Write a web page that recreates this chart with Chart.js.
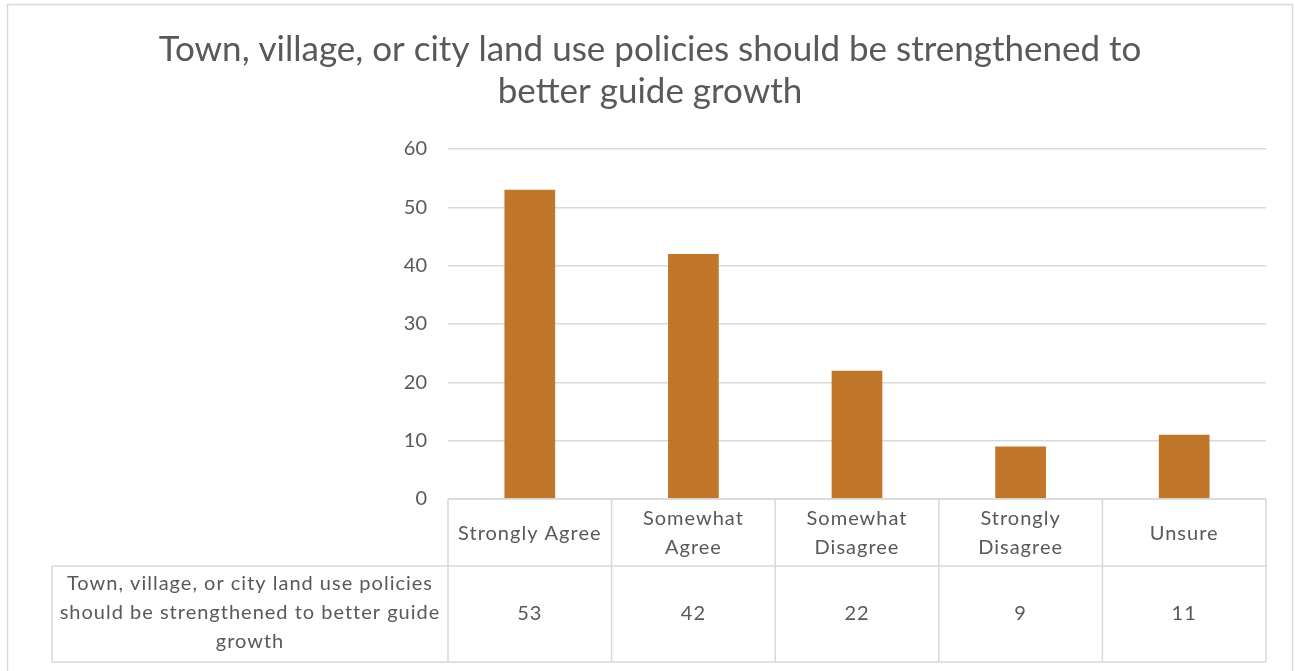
<!DOCTYPE html>
<html>
<head>
<meta charset="utf-8">
<script src="https://cdn.jsdelivr.net/npm/chart.js@4"></script>
<style>
html,body{margin:0;padding:0;background:#fff;}
#wrap{position:absolute;left:0;top:0;width:1295px;height:671px;}
</style>
</head>
<body>
<div id="wrap"><canvas id="c" width="1295" height="671"></canvas></div>
<script>
const titleLines = ['Town, village, or city land use policies should be strengthened to', 'better guide growth'];
const seriesName = 'Town, village, or city land use policies should be strengthened to better guide growth';
const seriesNameLines = ['Town, village, or city land use policies', 'should be strengthened to better guide', 'growth'];
const categories = ['Strongly Agree', 'Somewhat Agree', 'Somewhat Disagree', 'Strongly Disagree', 'Unsure'];
const categoryLines = [['Strongly Agree'], ['Somewhat', 'Agree'], ['Somewhat', 'Disagree'], ['Strongly', 'Disagree'], ['Unsure']];
const values = [53, 42, 22, 9, 11];
const yMin = 0, yMax = 60, yStep = 10;

const TXT = '#595959';
const LINE = '#d9d9d9';
const FONT = 'Lato, "Open Sans", sans-serif';

const tablePlugin = {
  id: 'dataTable',
  beforeDraw(chart) {
    const ctx = chart.ctx;
    ctx.save();
    ctx.strokeStyle = LINE;
    ctx.lineWidth = 1.5;
    ctx.strokeRect(7.5, 4.5, 1285, 700);
    ctx.restore();
  },
  afterDraw(chart) {
    const ctx = chart.ctx;
    const x = chart.scales.x;
    const area = chart.chartArea;
    const n = categories.length;
    const cw = (area.right - area.left) / n;
    const top = area.bottom;
    const rowH1 = 67;
    const rowH2 = 96;
    const midY = top + rowH1;
    const botY = midY + rowH2;
    const leftX = 52;
    ctx.save();
    ctx.strokeStyle = LINE;
    ctx.lineWidth = 1.5;
    ctx.beginPath();
    ctx.moveTo(area.left, top); ctx.lineTo(area.right, top);
    ctx.moveTo(leftX, midY); ctx.lineTo(area.right, midY);
    ctx.moveTo(leftX, botY); ctx.lineTo(area.right, botY);
    ctx.moveTo(leftX, midY); ctx.lineTo(leftX, botY);
    for (let i = 0; i <= n; i++) {
      const px = area.left + i * cw;
      ctx.moveTo(px, top); ctx.lineTo(px, botY);
    }
    ctx.stroke();
    ctx.fillStyle = TXT;
    ctx.font = '20px ' + FONT;
    ctx.letterSpacing = '1px';
    ctx.textAlign = 'center';
    ctx.textBaseline = 'middle';
    const lh = 29;
    categoryLines.forEach((lines, i) => {
      const cx = x.getPixelForValue(i);
      const cy = top + rowH1 / 2 + 1;
      lines.forEach((t, k) => {
        ctx.fillText(t, cx, cy + (k - (lines.length - 1) / 2) * lh);
      });
      ctx.fillText(String(values[i]), cx, midY + rowH2 / 2);
    });
    const lx = (leftX + area.left) / 2;
    seriesNameLines.forEach((t, k) => {
      ctx.fillText(t, lx, midY + rowH2 / 2 + (k - 1) * lh - 1);
    });
    ctx.restore();
  }
};

new Chart(document.getElementById('c'), {
  type: 'bar',
  data: {
    labels: categories,
    datasets: [{
      label: seriesName,
      data: values,
      backgroundColor: '#C0772A',
      borderWidth: 0,
      categoryPercentage: 1.0,
      barPercentage: 0.31
    }]
  },
  options: {
    responsive: false,
    animation: false,
    layout: { padding: { left: 5, right: 0, top: 0, bottom: 172 } },
    plugins: {
      legend: { display: false },
      tooltip: { enabled: false },
      title: {
        display: true,
        text: titleLines,
        color: TXT,
        font: { family: FONT, size: 35, weight: 'normal', lineHeight: 1.2 },
        padding: { top: 29, bottom: 36 }
      }
    },
    scales: {
      x: { display: false },
      y: {
        min: yMin, max: yMax,
        ticks: { stepSize: yStep, color: TXT, font: { family: FONT, size: 20 }, padding: 21 },
        grid: { color: LINE, lineWidth: 1.5, drawTicks: false },
        border: { display: false },
        afterFit(scale) { scale.width = 443; }
      },
      yr: {
        position: 'right',
        display: true,
        min: yMin, max: yMax,
        ticks: { display: false },
        grid: { display: false, drawTicks: false },
        border: { display: false },
        afterFit(scale) { scale.width = 29; }
      }
    }
  },
  plugins: [tablePlugin]
});
</script>
</body>
</html>
